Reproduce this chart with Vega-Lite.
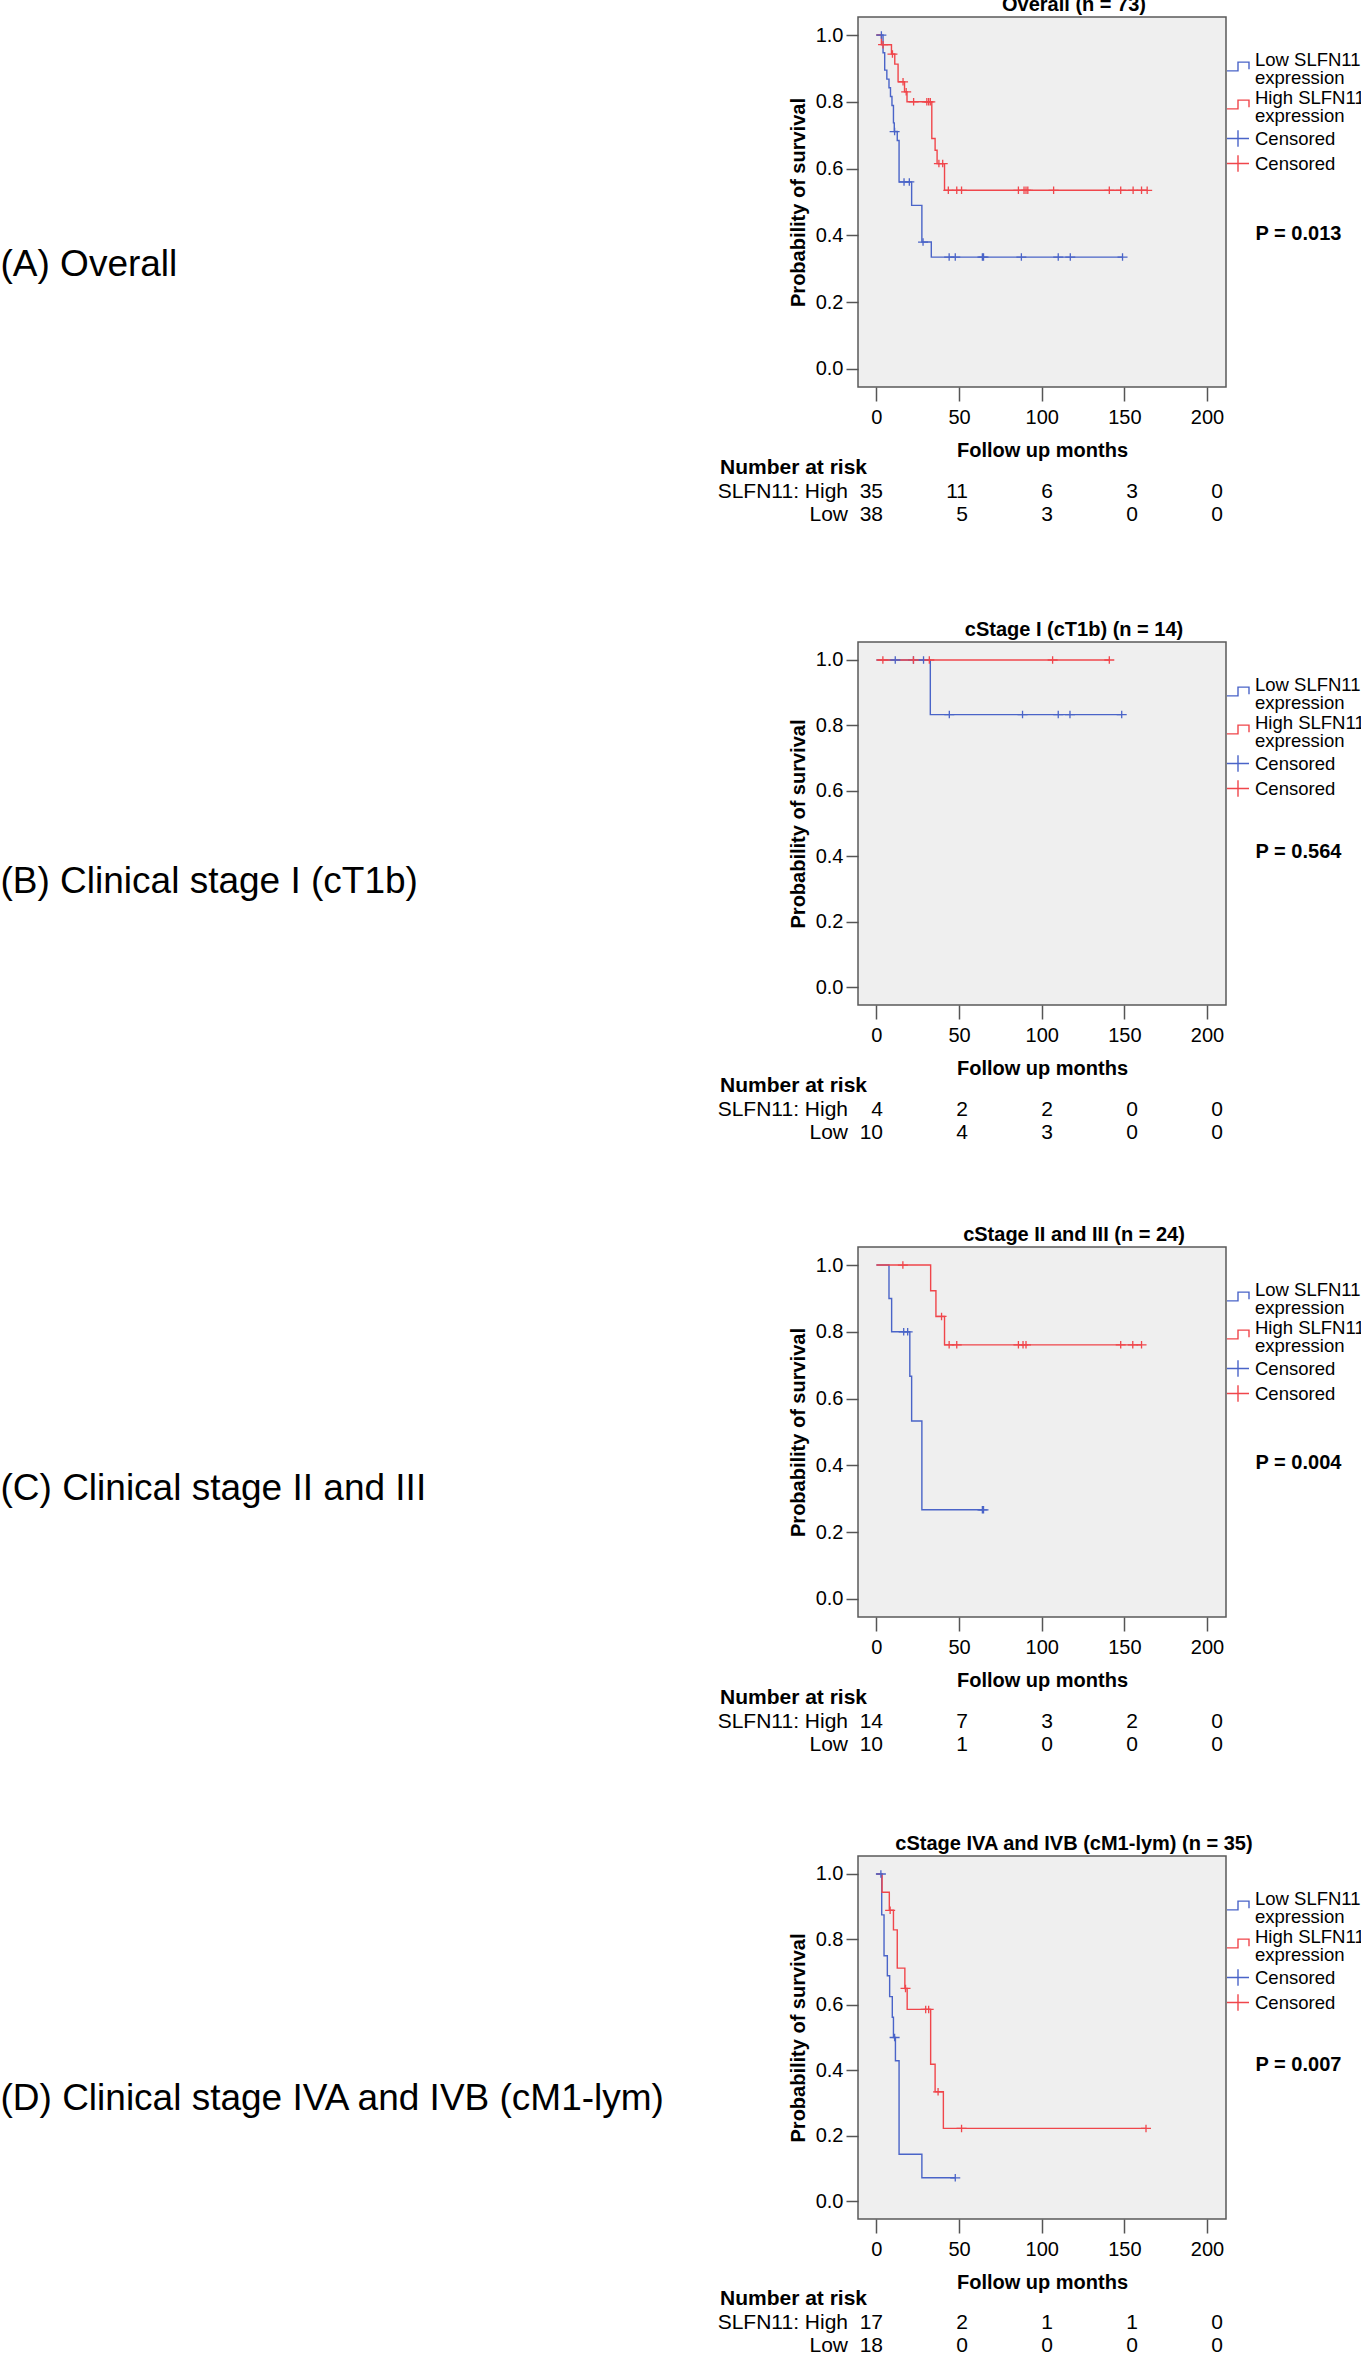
{
  "$schema": "https://vega.github.io/schema/vega-lite/v6.json",
  "padding": {"left": 0, "top": -6, "right": 0, "bottom": 0},
  "autosize": {"type": "pad"},
  "background": "white",
  "columns": 2,
  "spacing": {"row": 239, "column": 857},
  "bounds": "flush",
  "align": "each",
  "resolve": {"scale": {"color": "independent", "shape": "independent"}, "legend": {"color": "independent", "shape": "independent"}},
  "datasets": {
    "km": [
      {"panel": "A", "series": "Low", "t": 0, "s": 1}, {"panel": "A", "series": "Low", "t": 4.0, "s": 0.947}, {"panel": "A", "series": "Low", "t": 5.0, "s": 0.895}, {"panel": "A", "series": "Low", "t": 6.3, "s": 0.868}, {"panel": "A", "series": "Low", "t": 7.6, "s": 0.842}, {"panel": "A", "series": "Low", "t": 8.5, "s": 0.816}, {"panel": "A", "series": "Low", "t": 9.4, "s": 0.789}, {"panel": "A", "series": "Low", "t": 10.3, "s": 0.737}, {"panel": "A", "series": "Low", "t": 10.8, "s": 0.711}, {"panel": "A", "series": "Low", "t": 12.6, "s": 0.684}, {"panel": "A", "series": "Low", "t": 13.7, "s": 0.56}, {"panel": "A", "series": "Low", "t": 21.3, "s": 0.49}, {"panel": "A", "series": "Low", "t": 27.5, "s": 0.38}, {"panel": "A", "series": "Low", "t": 33.2, "s": 0.335}, {"panel": "A", "series": "Low", "t": 148.9, "s": 0.335},
      {"panel": "A", "series": "High", "t": 0, "s": 1}, {"panel": "A", "series": "High", "t": 3.0, "s": 0.971}, {"panel": "A", "series": "High", "t": 9.1, "s": 0.943}, {"panel": "A", "series": "High", "t": 11.1, "s": 0.913}, {"panel": "A", "series": "High", "t": 13.1, "s": 0.86}, {"panel": "A", "series": "High", "t": 17.0, "s": 0.83}, {"panel": "A", "series": "High", "t": 18.5, "s": 0.8}, {"panel": "A", "series": "High", "t": 33.5, "s": 0.69}, {"panel": "A", "series": "High", "t": 35.5, "s": 0.655}, {"panel": "A", "series": "High", "t": 36.7, "s": 0.615}, {"panel": "A", "series": "High", "t": 41.2, "s": 0.535}, {"panel": "A", "series": "High", "t": 163.8, "s": 0.535},
      {"panel": "B", "series": "Low", "t": 0, "s": 1}, {"panel": "B", "series": "Low", "t": 32.6, "s": 0.833}, {"panel": "B", "series": "Low", "t": 148.4, "s": 0.833},
      {"panel": "B", "series": "High", "t": 0, "s": 1}, {"panel": "B", "series": "High", "t": 140.9, "s": 1},
      {"panel": "C", "series": "Low", "t": 0, "s": 1}, {"panel": "C", "series": "Low", "t": 7.6, "s": 0.9}, {"panel": "C", "series": "Low", "t": 9.2, "s": 0.8}, {"panel": "C", "series": "Low", "t": 20.2, "s": 0.667}, {"panel": "C", "series": "Low", "t": 21.3, "s": 0.533}, {"panel": "C", "series": "Low", "t": 27.5, "s": 0.267}, {"panel": "C", "series": "Low", "t": 64.8, "s": 0.267},
      {"panel": "C", "series": "High", "t": 0, "s": 1}, {"panel": "C", "series": "High", "t": 32.8, "s": 0.923}, {"panel": "C", "series": "High", "t": 36.0, "s": 0.846}, {"panel": "C", "series": "High", "t": 41.2, "s": 0.761}, {"panel": "C", "series": "High", "t": 160.4, "s": 0.761},
      {"panel": "D", "series": "Low", "t": 0, "s": 1}, {"panel": "D", "series": "Low", "t": 3.2, "s": 0.875}, {"panel": "D", "series": "Low", "t": 4.6, "s": 0.75}, {"panel": "D", "series": "Low", "t": 6.6, "s": 0.689}, {"panel": "D", "series": "Low", "t": 8.0, "s": 0.625}, {"panel": "D", "series": "Low", "t": 9.6, "s": 0.562}, {"panel": "D", "series": "Low", "t": 10.3, "s": 0.5}, {"panel": "D", "series": "Low", "t": 11.5, "s": 0.429}, {"panel": "D", "series": "Low", "t": 13.7, "s": 0.143}, {"panel": "D", "series": "Low", "t": 27.5, "s": 0.071}, {"panel": "D", "series": "Low", "t": 47.7, "s": 0.071},
      {"panel": "D", "series": "High", "t": 0, "s": 1}, {"panel": "D", "series": "High", "t": 3.4, "s": 0.944}, {"panel": "D", "series": "High", "t": 7.8, "s": 0.889}, {"panel": "D", "series": "High", "t": 10.3, "s": 0.829}, {"panel": "D", "series": "High", "t": 12.6, "s": 0.712}, {"panel": "D", "series": "High", "t": 17.2, "s": 0.65}, {"panel": "D", "series": "High", "t": 18.6, "s": 0.586}, {"panel": "D", "series": "High", "t": 32.8, "s": 0.418}, {"panel": "D", "series": "High", "t": 35.5, "s": 0.334}, {"panel": "D", "series": "High", "t": 40.5, "s": 0.222}, {"panel": "D", "series": "High", "t": 163.1, "s": 0.222}
    ],
    "cens": [
      {"panel": "A", "series": "Censored Low", "t": 3.0, "s": 1}, {"panel": "A", "series": "Censored Low", "t": 11.0, "s": 0.711}, {"panel": "A", "series": "Censored Low", "t": 16.7, "s": 0.56}, {"panel": "A", "series": "Censored Low", "t": 19.9, "s": 0.56}, {"panel": "A", "series": "Censored Low", "t": 28.2, "s": 0.38}, {"panel": "A", "series": "Censored Low", "t": 44, "s": 0.335}, {"panel": "A", "series": "Censored Low", "t": 47.7, "s": 0.335}, {"panel": "A", "series": "Censored Low", "t": 64.1, "s": 0.335}, {"panel": "A", "series": "Censored Low", "t": 64.8, "s": 0.335}, {"panel": "A", "series": "Censored Low", "t": 87.7, "s": 0.335}, {"panel": "A", "series": "Censored Low", "t": 110, "s": 0.335}, {"panel": "A", "series": "Censored Low", "t": 117.3, "s": 0.335}, {"panel": "A", "series": "Censored Low", "t": 148.9, "s": 0.335},
      {"panel": "A", "series": "Censored High", "t": 4.0, "s": 0.971}, {"panel": "A", "series": "Censored High", "t": 9.7, "s": 0.943}, {"panel": "A", "series": "Censored High", "t": 16.1, "s": 0.86}, {"panel": "A", "series": "Censored High", "t": 18.0, "s": 0.83}, {"panel": "A", "series": "Censored High", "t": 22.5, "s": 0.8}, {"panel": "A", "series": "Censored High", "t": 30.5, "s": 0.8}, {"panel": "A", "series": "Censored High", "t": 31.6, "s": 0.8}, {"panel": "A", "series": "Censored High", "t": 32.6, "s": 0.8}, {"panel": "A", "series": "Censored High", "t": 37.8, "s": 0.615}, {"panel": "A", "series": "Censored High", "t": 40.1, "s": 0.615}, {"panel": "A", "series": "Censored High", "t": 43.5, "s": 0.535}, {"panel": "A", "series": "Censored High", "t": 48.6, "s": 0.535}, {"panel": "A", "series": "Censored High", "t": 51.5, "s": 0.535}, {"panel": "A", "series": "Censored High", "t": 85.9, "s": 0.535}, {"panel": "A", "series": "Censored High", "t": 89.3, "s": 0.535}, {"panel": "A", "series": "Censored High", "t": 90.5, "s": 0.535}, {"panel": "A", "series": "Censored High", "t": 91.6, "s": 0.535}, {"panel": "A", "series": "Censored High", "t": 107.2, "s": 0.535}, {"panel": "A", "series": "Censored High", "t": 140.9, "s": 0.535}, {"panel": "A", "series": "Censored High", "t": 147.8, "s": 0.535}, {"panel": "A", "series": "Censored High", "t": 155.3, "s": 0.535}, {"panel": "A", "series": "Censored High", "t": 160.4, "s": 0.535}, {"panel": "A", "series": "Censored High", "t": 163.8, "s": 0.535},
      {"panel": "B", "series": "Censored Low", "t": 11.4, "s": 1}, {"panel": "B", "series": "Censored Low", "t": 22.4, "s": 1}, {"panel": "B", "series": "Censored Low", "t": 28.5, "s": 1}, {"panel": "B", "series": "Censored Low", "t": 44.1, "s": 0.833}, {"panel": "B", "series": "Censored Low", "t": 88.4, "s": 0.833}, {"panel": "B", "series": "Censored Low", "t": 110, "s": 0.833}, {"panel": "B", "series": "Censored Low", "t": 117.1, "s": 0.833}, {"panel": "B", "series": "Censored Low", "t": 148.4, "s": 0.833},
      {"panel": "B", "series": "Censored High", "t": 3.9, "s": 1}, {"panel": "B", "series": "Censored High", "t": 22.4, "s": 1}, {"panel": "B", "series": "Censored High", "t": 32.0, "s": 1}, {"panel": "B", "series": "Censored High", "t": 106.6, "s": 1}, {"panel": "B", "series": "Censored High", "t": 140.9, "s": 1},
      {"panel": "C", "series": "Censored Low", "t": 16.5, "s": 0.8}, {"panel": "C", "series": "Censored Low", "t": 18.9, "s": 0.8}, {"panel": "C", "series": "Censored Low", "t": 64.1, "s": 0.267}, {"panel": "C", "series": "Censored Low", "t": 64.8, "s": 0.267},
      {"panel": "C", "series": "Censored High", "t": 16.0, "s": 1}, {"panel": "C", "series": "Censored High", "t": 39.4, "s": 0.846}, {"panel": "C", "series": "Censored High", "t": 44.0, "s": 0.761}, {"panel": "C", "series": "Censored High", "t": 48.6, "s": 0.761}, {"panel": "C", "series": "Censored High", "t": 85.9, "s": 0.761}, {"panel": "C", "series": "Censored High", "t": 88.7, "s": 0.761}, {"panel": "C", "series": "Censored High", "t": 90.5, "s": 0.761}, {"panel": "C", "series": "Censored High", "t": 147.8, "s": 0.761}, {"panel": "C", "series": "Censored High", "t": 155.1, "s": 0.761}, {"panel": "C", "series": "Censored High", "t": 160.4, "s": 0.761},
      {"panel": "D", "series": "Censored Low", "t": 2.7, "s": 1}, {"panel": "D", "series": "Censored Low", "t": 11.0, "s": 0.5}, {"panel": "D", "series": "Censored Low", "t": 47.7, "s": 0.071},
      {"panel": "D", "series": "Censored High", "t": 8.3, "s": 0.889}, {"panel": "D", "series": "Censored High", "t": 17.6, "s": 0.65}, {"panel": "D", "series": "Censored High", "t": 29.8, "s": 0.586}, {"panel": "D", "series": "Censored High", "t": 31.6, "s": 0.586}, {"panel": "D", "series": "Censored High", "t": 37.3, "s": 0.334}, {"panel": "D", "series": "Censored High", "t": 51.5, "s": 0.222}, {"panel": "D", "series": "Censored High", "t": 163.1, "s": 0.222}
    ],
    "risk": [
      {"panel": "A", "row": "High", "t": 0, "n": 35}, {"panel": "A", "row": "High", "t": 50, "n": 11}, {"panel": "A", "row": "High", "t": 100, "n": 6}, {"panel": "A", "row": "High", "t": 150, "n": 3}, {"panel": "A", "row": "High", "t": 200, "n": 0},
      {"panel": "A", "row": "Low", "t": 0, "n": 38}, {"panel": "A", "row": "Low", "t": 50, "n": 5}, {"panel": "A", "row": "Low", "t": 100, "n": 3}, {"panel": "A", "row": "Low", "t": 150, "n": 0}, {"panel": "A", "row": "Low", "t": 200, "n": 0},
      {"panel": "B", "row": "High", "t": 0, "n": 4}, {"panel": "B", "row": "High", "t": 50, "n": 2}, {"panel": "B", "row": "High", "t": 100, "n": 2}, {"panel": "B", "row": "High", "t": 150, "n": 0}, {"panel": "B", "row": "High", "t": 200, "n": 0},
      {"panel": "B", "row": "Low", "t": 0, "n": 10}, {"panel": "B", "row": "Low", "t": 50, "n": 4}, {"panel": "B", "row": "Low", "t": 100, "n": 3}, {"panel": "B", "row": "Low", "t": 150, "n": 0}, {"panel": "B", "row": "Low", "t": 200, "n": 0},
      {"panel": "C", "row": "High", "t": 0, "n": 14}, {"panel": "C", "row": "High", "t": 50, "n": 7}, {"panel": "C", "row": "High", "t": 100, "n": 3}, {"panel": "C", "row": "High", "t": 150, "n": 2}, {"panel": "C", "row": "High", "t": 200, "n": 0},
      {"panel": "C", "row": "Low", "t": 0, "n": 10}, {"panel": "C", "row": "Low", "t": 50, "n": 1}, {"panel": "C", "row": "Low", "t": 100, "n": 0}, {"panel": "C", "row": "Low", "t": 150, "n": 0}, {"panel": "C", "row": "Low", "t": 200, "n": 0},
      {"panel": "D", "row": "High", "t": 0, "n": 17}, {"panel": "D", "row": "High", "t": 50, "n": 2}, {"panel": "D", "row": "High", "t": 100, "n": 1}, {"panel": "D", "row": "High", "t": 150, "n": 1}, {"panel": "D", "row": "High", "t": 200, "n": 0},
      {"panel": "D", "row": "Low", "t": 0, "n": 18}, {"panel": "D", "row": "Low", "t": 50, "n": 0}, {"panel": "D", "row": "Low", "t": 100, "n": 0}, {"panel": "D", "row": "Low", "t": 150, "n": 0}, {"panel": "D", "row": "Low", "t": 200, "n": 0}
    ],
    "rlab": [{"row": "High", "label": "SLFN11: High"}, {"row": "Low", "label": "Low"}],
    "head": [{"h": "Number at risk"}],
    "pval": [{"panel": "A", "p": "P = 0.013"}, {"panel": "B", "p": "P = 0.564"}, {"panel": "C", "p": "P = 0.004"}, {"panel": "D", "p": "P = 0.007"}]
  },
  "concat": [
    {
      "width": 1, "height": 386,
      "data": {"values": [{"label": "(A) Overall"}]},
      "mark": {"type": "text", "align": "left", "baseline": "middle", "fontSize": 37, "dy": 55, "color": "#000"},
      "encoding": {"text": {"field": "label"}}
    },
    {
      "width": 368, "height": 370,
      "title": {"text": "Overall (n = 73)"},
      "view": {"fill": "#efefef", "stroke": "#5a5a5a", "strokeWidth": 1.5},
      "layer": [
        {"layer": [
          {"data": {"name": "km"}, "transform": [{"filter": "datum.panel == 'A'"}],
           "mark": {"type": "line", "interpolate": "step-after", "strokeWidth": 1.4},
           "encoding": {
             "x": {"field": "t", "type": "quantitative", "scale": {"domain": [-11.15, 211.5], "nice": false, "zero": false}, "axis": {"values": [0, 50, 100, 150, 200], "title": "Follow up months", "labelFlush": false}},
             "y": {"field": "s", "type": "quantitative", "scale": {"domain": [-0.054, 1.054], "nice": false, "zero": false}, "axis": {"values": [0, 0.2, 0.4, 0.6, 0.8, 1.0], "format": ".1f", "title": "Probability of survival"}},
             "color": {"field": "series", "type": "nominal", "scale": {"domain": ["Low", "High", "Censored Low", "Censored High"], "range": ["#4a64c8", "#f0464b", "#4a64c8", "#f0464b"]}, "legend": {"orient": "none", "legendX": 368, "legendY": 37.5, "title": null, "labelExpr": "datum.value == 'Low' ? ['Low SLFN11', 'expression'] : datum.value == 'High' ? ['High SLFN11', 'expression'] : 'Censored'", "encode": {"labels": {"update": {"lineHeight": {"value": 18}, "dy": {"signal": "datum.value == 'Low' || datum.value == 'High' ? -7 : 0"}}}, "symbols": {"update": {"fill": {"value": "transparent"}}}}}}
           }},
          {"data": {"name": "cens"}, "transform": [{"filter": "datum.panel == 'A'"}],
           "mark": {"type": "point", "filled": false, "size": 100, "strokeWidth": 1.3, "opacity": 1},
           "encoding": {
             "x": {"field": "t", "type": "quantitative"},
             "y": {"field": "s", "type": "quantitative"},
             "color": {"field": "series", "type": "nominal"},
             "shape": {"field": "series", "type": "nominal", "scale": {"domain": ["Low", "High", "Censored Low", "Censored High"], "range": ["M-1,0.4H0V-0.4H1V0.25", "M-1,0.4H0V-0.4H1V0.25", "M-1,0H1M0,-0.75V0.75", "M-1,0H1M0,-0.75V0.75"]}, "legend": {"orient": "none", "legendX": 368, "legendY": 37.5, "title": null, "labelExpr": "datum.value == 'Low' ? ['Low SLFN11', 'expression'] : datum.value == 'High' ? ['High SLFN11', 'expression'] : 'Censored'", "encode": {"labels": {"update": {"lineHeight": {"value": 18}, "dy": {"signal": "datum.value == 'Low' || datum.value == 'High' ? -7 : 0"}}}, "symbols": {"update": {"fill": {"value": "transparent"}}}}}}
           }},
          {"data": {"name": "pval"}, "transform": [{"filter": "datum.panel == 'A'"}],
           "mark": {"type": "text", "align": "left", "baseline": "middle", "fontSize": 20, "fontWeight": "bold", "color": "#000"},
           "encoding": {"x": {"datum": 229.4, "type": "quantitative"}, "y": {"datum": 0.405, "type": "quantitative"}, "text": {"field": "p"}}}
        ]},
        {"layer": [
          {"data": {"name": "risk"}, "transform": [{"filter": "datum.panel == 'A'"}],
           "mark": {"type": "text", "align": "right", "baseline": "middle", "fontSize": 21, "color": "#000"},
           "encoding": {
             "x": {"field": "t", "type": "quantitative", "scale": {"domain": [0, 200], "range": [25, 365], "nice": false, "zero": false}, "axis": null},
             "y": {"field": "row", "type": "nominal", "scale": {"type": "point", "domain": ["Number at risk", "High", "Low"], "range": [451, 498], "padding": 0}, "axis": null},
             "text": {"field": "n"}
           }},
          {"data": {"name": "rlab"},
           "mark": {"type": "text", "align": "right", "baseline": "middle", "fontSize": 21, "dx": -35, "color": "#000"},
           "encoding": {"x": {"datum": 0, "type": "quantitative"}, "y": {"field": "row", "type": "nominal"}, "text": {"field": "label"}}},
          {"data": {"name": "head"},
           "mark": {"type": "text", "align": "left", "baseline": "middle", "fontSize": 21, "fontWeight": "bold", "dx": -163, "color": "#000"},
           "encoding": {"x": {"datum": 0, "type": "quantitative"}, "y": {"field": "h", "type": "nominal"}, "text": {"field": "h"}}}
        ]}
      ],
      "resolve": {"scale": {"x": "independent", "y": "independent"}}
    },
    {
      "width": 1, "height": 366,
      "data": {"values": [{"label": "(B) Clinical stage I (cT1b)"}]},
      "mark": {"type": "text", "align": "left", "baseline": "middle", "fontSize": 37, "dy": 57, "color": "#000"},
      "encoding": {"text": {"field": "label"}}
    },
    {
      "width": 368, "height": 363,
      "title": {"text": "cStage I (cT1b) (n = 14)"},
      "view": {"fill": "#efefef", "stroke": "#5a5a5a", "strokeWidth": 1.5},
      "layer": [
        {"layer": [
          {"data": {"name": "km"}, "transform": [{"filter": "datum.panel == 'B'"}],
           "mark": {"type": "line", "interpolate": "step-after", "strokeWidth": 1.4},
           "encoding": {
             "x": {"field": "t", "type": "quantitative", "scale": {"domain": [-11.15, 211.5], "nice": false, "zero": false}, "axis": {"values": [0, 50, 100, 150, 200], "title": "Follow up months", "labelFlush": false}},
             "y": {"field": "s", "type": "quantitative", "scale": {"domain": [-0.055, 1.055], "nice": false, "zero": false}, "axis": {"values": [0, 0.2, 0.4, 0.6, 0.8, 1.0], "format": ".1f", "title": "Probability of survival"}},
             "color": {"field": "series", "type": "nominal", "scale": {"domain": ["Low", "High", "Censored Low", "Censored High"], "range": ["#4a64c8", "#f0464b", "#4a64c8", "#f0464b"]}, "legend": {"orient": "none", "legendX": 368, "legendY": 37.5, "title": null, "labelExpr": "datum.value == 'Low' ? ['Low SLFN11', 'expression'] : datum.value == 'High' ? ['High SLFN11', 'expression'] : 'Censored'", "encode": {"labels": {"update": {"lineHeight": {"value": 18}, "dy": {"signal": "datum.value == 'Low' || datum.value == 'High' ? -7 : 0"}}}, "symbols": {"update": {"fill": {"value": "transparent"}}}}}}
           }},
          {"data": {"name": "cens"}, "transform": [{"filter": "datum.panel == 'B'"}],
           "mark": {"type": "point", "filled": false, "size": 100, "strokeWidth": 1.3, "opacity": 1},
           "encoding": {
             "x": {"field": "t", "type": "quantitative"},
             "y": {"field": "s", "type": "quantitative"},
             "color": {"field": "series", "type": "nominal"},
             "shape": {"field": "series", "type": "nominal", "scale": {"domain": ["Low", "High", "Censored Low", "Censored High"], "range": ["M-1,0.4H0V-0.4H1V0.25", "M-1,0.4H0V-0.4H1V0.25", "M-1,0H1M0,-0.75V0.75", "M-1,0H1M0,-0.75V0.75"]}, "legend": {"orient": "none", "legendX": 368, "legendY": 37.5, "title": null, "labelExpr": "datum.value == 'Low' ? ['Low SLFN11', 'expression'] : datum.value == 'High' ? ['High SLFN11', 'expression'] : 'Censored'", "encode": {"labels": {"update": {"lineHeight": {"value": 18}, "dy": {"signal": "datum.value == 'Low' || datum.value == 'High' ? -7 : 0"}}}, "symbols": {"update": {"fill": {"value": "transparent"}}}}}}
           }},
          {"data": {"name": "pval"}, "transform": [{"filter": "datum.panel == 'B'"}],
           "mark": {"type": "text", "align": "left", "baseline": "middle", "fontSize": 20, "fontWeight": "bold", "color": "#000"},
           "encoding": {"x": {"datum": 229.4, "type": "quantitative"}, "y": {"datum": 0.414, "type": "quantitative"}, "text": {"field": "p"}}}
        ]},
        {"layer": [
          {"data": {"name": "risk"}, "transform": [{"filter": "datum.panel == 'B'"}],
           "mark": {"type": "text", "align": "right", "baseline": "middle", "fontSize": 21, "color": "#000"},
           "encoding": {
             "x": {"field": "t", "type": "quantitative", "scale": {"domain": [0, 200], "range": [25, 365], "nice": false, "zero": false}, "axis": null},
             "y": {"field": "row", "type": "nominal", "scale": {"type": "point", "domain": ["Number at risk", "High", "Low"], "range": [444, 491], "padding": 0}, "axis": null},
             "text": {"field": "n"}
           }},
          {"data": {"name": "rlab"},
           "mark": {"type": "text", "align": "right", "baseline": "middle", "fontSize": 21, "dx": -35, "color": "#000"},
           "encoding": {"x": {"datum": 0, "type": "quantitative"}, "y": {"field": "row", "type": "nominal"}, "text": {"field": "label"}}},
          {"data": {"name": "head"},
           "mark": {"type": "text", "align": "left", "baseline": "middle", "fontSize": 21, "fontWeight": "bold", "dx": -163, "color": "#000"},
           "encoding": {"x": {"datum": 0, "type": "quantitative"}, "y": {"field": "h", "type": "nominal"}, "text": {"field": "h"}}}
        ]}
      ],
      "resolve": {"scale": {"x": "independent", "y": "independent"}}
    },
    {
      "width": 1, "height": 370,
      "data": {"values": [{"label": "(C) Clinical stage II and III"}]},
      "mark": {"type": "text", "align": "left", "baseline": "middle", "fontSize": 37, "dy": 57, "color": "#000"},
      "encoding": {"text": {"field": "label"}}
    },
    {
      "width": 368, "height": 370,
      "title": {"text": "cStage II and III (n = 24)"},
      "view": {"fill": "#efefef", "stroke": "#5a5a5a", "strokeWidth": 1.5},
      "layer": [
        {"layer": [
          {"data": {"name": "km"}, "transform": [{"filter": "datum.panel == 'C'"}],
           "mark": {"type": "line", "interpolate": "step-after", "strokeWidth": 1.4},
           "encoding": {
             "x": {"field": "t", "type": "quantitative", "scale": {"domain": [-11.15, 211.5], "nice": false, "zero": false}, "axis": {"values": [0, 50, 100, 150, 200], "title": "Follow up months", "labelFlush": false}},
             "y": {"field": "s", "type": "quantitative", "scale": {"domain": [-0.054, 1.054], "nice": false, "zero": false}, "axis": {"values": [0, 0.2, 0.4, 0.6, 0.8, 1.0], "format": ".1f", "title": "Probability of survival"}},
             "color": {"field": "series", "type": "nominal", "scale": {"domain": ["Low", "High", "Censored Low", "Censored High"], "range": ["#4a64c8", "#f0464b", "#4a64c8", "#f0464b"]}, "legend": {"orient": "none", "legendX": 368, "legendY": 37.5, "title": null, "labelExpr": "datum.value == 'Low' ? ['Low SLFN11', 'expression'] : datum.value == 'High' ? ['High SLFN11', 'expression'] : 'Censored'", "encode": {"labels": {"update": {"lineHeight": {"value": 18}, "dy": {"signal": "datum.value == 'Low' || datum.value == 'High' ? -7 : 0"}}}, "symbols": {"update": {"fill": {"value": "transparent"}}}}}}
           }},
          {"data": {"name": "cens"}, "transform": [{"filter": "datum.panel == 'C'"}],
           "mark": {"type": "point", "filled": false, "size": 100, "strokeWidth": 1.3, "opacity": 1},
           "encoding": {
             "x": {"field": "t", "type": "quantitative"},
             "y": {"field": "s", "type": "quantitative"},
             "color": {"field": "series", "type": "nominal"},
             "shape": {"field": "series", "type": "nominal", "scale": {"domain": ["Low", "High", "Censored Low", "Censored High"], "range": ["M-1,0.4H0V-0.4H1V0.25", "M-1,0.4H0V-0.4H1V0.25", "M-1,0H1M0,-0.75V0.75", "M-1,0H1M0,-0.75V0.75"]}, "legend": {"orient": "none", "legendX": 368, "legendY": 37.5, "title": null, "labelExpr": "datum.value == 'Low' ? ['Low SLFN11', 'expression'] : datum.value == 'High' ? ['High SLFN11', 'expression'] : 'Censored'", "encode": {"labels": {"update": {"lineHeight": {"value": 18}, "dy": {"signal": "datum.value == 'Low' || datum.value == 'High' ? -7 : 0"}}}, "symbols": {"update": {"fill": {"value": "transparent"}}}}}}
           }},
          {"data": {"name": "pval"}, "transform": [{"filter": "datum.panel == 'C'"}],
           "mark": {"type": "text", "align": "left", "baseline": "middle", "fontSize": 20, "fontWeight": "bold", "color": "#000"},
           "encoding": {"x": {"datum": 229.4, "type": "quantitative"}, "y": {"datum": 0.406, "type": "quantitative"}, "text": {"field": "p"}}}
        ]},
        {"layer": [
          {"data": {"name": "risk"}, "transform": [{"filter": "datum.panel == 'C'"}],
           "mark": {"type": "text", "align": "right", "baseline": "middle", "fontSize": 21, "color": "#000"},
           "encoding": {
             "x": {"field": "t", "type": "quantitative", "scale": {"domain": [0, 200], "range": [25, 365], "nice": false, "zero": false}, "axis": null},
             "y": {"field": "row", "type": "nominal", "scale": {"type": "point", "domain": ["Number at risk", "High", "Low"], "range": [451, 498], "padding": 0}, "axis": null},
             "text": {"field": "n"}
           }},
          {"data": {"name": "rlab"},
           "mark": {"type": "text", "align": "right", "baseline": "middle", "fontSize": 21, "dx": -35, "color": "#000"},
           "encoding": {"x": {"datum": 0, "type": "quantitative"}, "y": {"field": "row", "type": "nominal"}, "text": {"field": "label"}}},
          {"data": {"name": "head"},
           "mark": {"type": "text", "align": "left", "baseline": "middle", "fontSize": 21, "fontWeight": "bold", "dx": -163, "color": "#000"},
           "encoding": {"x": {"datum": 0, "type": "quantitative"}, "y": {"field": "h", "type": "nominal"}, "text": {"field": "h"}}}
        ]}
      ],
      "resolve": {"scale": {"x": "independent", "y": "independent"}}
    },
    {
      "width": 1, "height": 363,
      "data": {"values": [{"label": "(D) Clinical stage IVA and IVB (cM1-lym)"}]},
      "mark": {"type": "text", "align": "left", "baseline": "middle", "fontSize": 37, "dy": 61, "color": "#000"},
      "encoding": {"text": {"field": "label"}}
    },
    {
      "width": 368, "height": 363,
      "title": {"text": "cStage IVA and IVB (cM1-lym) (n = 35)"},
      "view": {"fill": "#efefef", "stroke": "#5a5a5a", "strokeWidth": 1.5},
      "layer": [
        {"layer": [
          {"data": {"name": "km"}, "transform": [{"filter": "datum.panel == 'D'"}],
           "mark": {"type": "line", "interpolate": "step-after", "strokeWidth": 1.4},
           "encoding": {
             "x": {"field": "t", "type": "quantitative", "scale": {"domain": [-11.15, 211.5], "nice": false, "zero": false}, "axis": {"values": [0, 50, 100, 150, 200], "title": "Follow up months", "labelFlush": false}},
             "y": {"field": "s", "type": "quantitative", "scale": {"domain": [-0.055, 1.055], "nice": false, "zero": false}, "axis": {"values": [0, 0.2, 0.4, 0.6, 0.8, 1.0], "format": ".1f", "title": "Probability of survival"}},
             "color": {"field": "series", "type": "nominal", "scale": {"domain": ["Low", "High", "Censored Low", "Censored High"], "range": ["#4a64c8", "#f0464b", "#4a64c8", "#f0464b"]}, "legend": {"orient": "none", "legendX": 368, "legendY": 37.5, "title": null, "labelExpr": "datum.value == 'Low' ? ['Low SLFN11', 'expression'] : datum.value == 'High' ? ['High SLFN11', 'expression'] : 'Censored'", "encode": {"labels": {"update": {"lineHeight": {"value": 18}, "dy": {"signal": "datum.value == 'Low' || datum.value == 'High' ? -7 : 0"}}}, "symbols": {"update": {"fill": {"value": "transparent"}}}}}}
           }},
          {"data": {"name": "cens"}, "transform": [{"filter": "datum.panel == 'D'"}],
           "mark": {"type": "point", "filled": false, "size": 100, "strokeWidth": 1.3, "opacity": 1},
           "encoding": {
             "x": {"field": "t", "type": "quantitative"},
             "y": {"field": "s", "type": "quantitative"},
             "color": {"field": "series", "type": "nominal"},
             "shape": {"field": "series", "type": "nominal", "scale": {"domain": ["Low", "High", "Censored Low", "Censored High"], "range": ["M-1,0.4H0V-0.4H1V0.25", "M-1,0.4H0V-0.4H1V0.25", "M-1,0H1M0,-0.75V0.75", "M-1,0H1M0,-0.75V0.75"]}, "legend": {"orient": "none", "legendX": 368, "legendY": 37.5, "title": null, "labelExpr": "datum.value == 'Low' ? ['Low SLFN11', 'expression'] : datum.value == 'High' ? ['High SLFN11', 'expression'] : 'Censored'", "encode": {"labels": {"update": {"lineHeight": {"value": 18}, "dy": {"signal": "datum.value == 'Low' || datum.value == 'High' ? -7 : 0"}}}, "symbols": {"update": {"fill": {"value": "transparent"}}}}}}
           }},
          {"data": {"name": "pval"}, "transform": [{"filter": "datum.panel == 'D'"}],
           "mark": {"type": "text", "align": "left", "baseline": "middle", "fontSize": 20, "fontWeight": "bold", "color": "#000"},
           "encoding": {"x": {"datum": 229.4, "type": "quantitative"}, "y": {"datum": 0.416, "type": "quantitative"}, "text": {"field": "p"}}}
        ]},
        {"layer": [
          {"data": {"name": "risk"}, "transform": [{"filter": "datum.panel == 'D'"}],
           "mark": {"type": "text", "align": "right", "baseline": "middle", "fontSize": 21, "color": "#000"},
           "encoding": {
             "x": {"field": "t", "type": "quantitative", "scale": {"domain": [0, 200], "range": [25, 365], "nice": false, "zero": false}, "axis": null},
             "y": {"field": "row", "type": "nominal", "scale": {"type": "point", "domain": ["Number at risk", "High", "Low"], "range": [443, 490], "padding": 0}, "axis": null},
             "text": {"field": "n"}
           }},
          {"data": {"name": "rlab"},
           "mark": {"type": "text", "align": "right", "baseline": "middle", "fontSize": 21, "dx": -35, "color": "#000"},
           "encoding": {"x": {"datum": 0, "type": "quantitative"}, "y": {"field": "row", "type": "nominal"}, "text": {"field": "label"}}},
          {"data": {"name": "head"},
           "mark": {"type": "text", "align": "left", "baseline": "middle", "fontSize": 21, "fontWeight": "bold", "dx": -163, "color": "#000"},
           "encoding": {"x": {"datum": 0, "type": "quantitative"}, "y": {"field": "h", "type": "nominal"}, "text": {"field": "h"}}}
        ]}
      ],
      "resolve": {"scale": {"x": "independent", "y": "independent"}}
    }
  ],
  "config": {
    "font": "Liberation Sans",
    "view": {"stroke": null},
    "text": {"font": "Liberation Sans"},
    "axis": {"domain": false, "grid": false, "tickColor": "#555555", "tickWidth": 1.5, "labelFont": "Liberation Sans", "labelFontSize": 20, "labelColor": "#000000", "titleFont": "Liberation Sans", "titleFontSize": 20, "titleFontWeight": "bold", "titleColor": "#000000"},
    "axisX": {"tickSize": 14, "labelPadding": 6, "titlePadding": 13},
    "axisY": {"tickSize": 12, "labelPadding": 3, "titlePadding": 7},
    "legend": {"labelFont": "Liberation Sans", "labelFontSize": 18.5, "labelColor": "#000000", "symbolSize": 484, "symbolStrokeWidth": 1.4, "symbolFillColor": "transparent", "symbolOpacity": 1, "rowPadding": 1, "labelOffset": 5, "padding": 0, "labelLimit": 400},
    "title": {"font": "Liberation Sans", "fontSize": 20, "fontWeight": "bold", "color": "#000000", "offset": 2, "dx": 32, "anchor": "middle"}
  }
}
